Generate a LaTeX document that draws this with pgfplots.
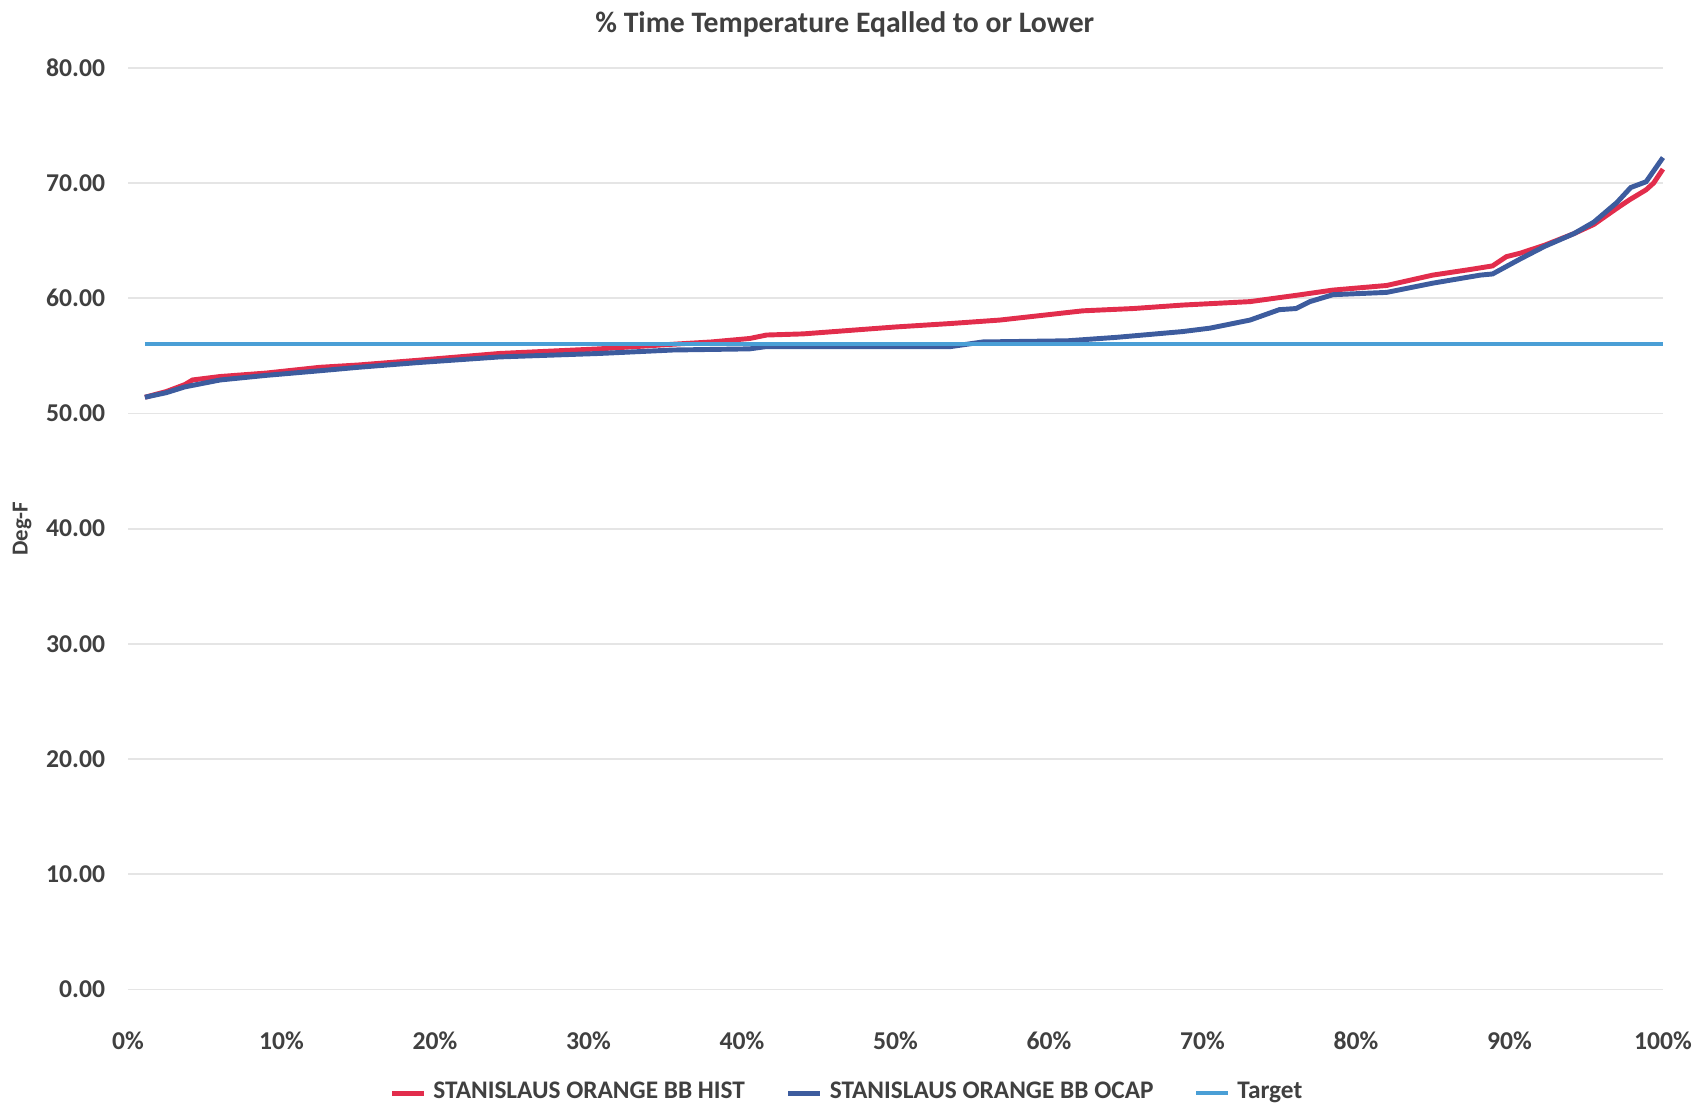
\documentclass[border=0pt]{standalone}
\usepackage{pgfplots}
\pgfplotsset{compat=1.18}
\usepackage{fontspec}
\setmainfont{Carlito}

\definecolor{histred}{HTML}{E22D4C}
\definecolor{ocapblue}{HTML}{3D5C9E}
\definecolor{targetblue}{HTML}{4A9FD6}
\definecolor{labgray}{HTML}{404040}

\begin{document}
\begin{tikzpicture}
\begin{axis}[
    width=15.35cm, height=9.22cm,
    scale only axis,
    clip=false,
    xmin=0, xmax=100,
    ymin=0, ymax=80,
    xtick={0,10,...,100},
    ytick={0,10,...,80},
    xticklabel={\pgfmathprintnumber{\tick}\%},
    /pgf/number format/assume math mode=true,
    tick label style={font=\fontsize{7.3}{8}\selectfont\bfseries, text=labgray},
    yticklabel style={/pgf/number format/fixed, /pgf/number format/fixed zerofill,
                      /pgf/number format/precision=2, xshift=-3pt},
    xticklabel style={yshift=-0.3cm},
    major tick length=0pt,
    axis line style={draw=none},
    ymajorgrids=true,
    grid style={gray!20, line width=0.5pt},
    title={\% Time Temperature Eqalled to or Lower},
    title style={font=\fontsize{8.45}{10}\selectfont\bfseries, text=labgray,
                 at={(0.467,1.024)}, anchor=center},
    ylabel={Deg-F},
    ylabel style={font=\fontsize{6.5}{8}\selectfont\bfseries, text=labgray,
                  at={(axis description cs:-0.069,0.5)}, anchor=center},
    legend style={at={(0.47,-0.092)}, anchor=north, draw=none,
                  legend columns=3, font=\fontsize{7.2}{9}\selectfont\bfseries,
                  text=labgray, inner sep=0pt,
                  /tikz/every even column/.append style={column sep=0.34cm}},
    legend image code/.code={\draw[#1] (0cm,0cm) -- (0.32cm,0cm);},
    legend cell align=left,
]

\addplot[color=histred, line width=1.4pt] coordinates {
(1.1,51.4)(2.5,51.9)(3.7,52.5)(4.2,52.9)(6,53.2)(9,53.5)(12.5,54.0)(15,54.2)
(18.8,54.6)(24.2,55.2)(30.7,55.6)(35.5,56.0)(38,56.2)(40.5,56.5)(41.6,56.8)
(44,56.9)(47,57.2)(50,57.5)(53.6,57.8)(56.8,58.1)(59.5,58.5)(62.2,58.9)
(65.5,59.1)(68.7,59.4)(73.1,59.7)(76.4,60.3)(78.5,60.7)(82,61.1)(85,62.0)
(87.5,62.5)(88.9,62.8)(89.8,63.6)(90.7,63.9)(92.3,64.6)(94.2,65.6)(95.5,66.4)
(97,67.8)(97.9,68.6)(98.9,69.4)(99.4,70.0)(100,71.2)
};
\addlegendentry{STANISLAUS ORANGE BB HIST}

\addplot[color=ocapblue, line width=1.4pt] coordinates {
(1.1,51.4)(2.5,51.8)(3.7,52.3)(6,52.9)(9,53.3)(12.5,53.7)(15,54.0)(18.8,54.4)
(24.2,54.9)(30.7,55.2)(35.5,55.5)(40.5,55.6)(41.6,55.8)(47,55.8)(53.6,55.8)
(55.7,56.2)(61.2,56.3)(64.4,56.6)(68.7,57.1)(70.5,57.4)(73.1,58.1)(75,59.0)
(76.1,59.1)(77,59.7)(78.5,60.3)(82,60.5)(85,61.3)(88.1,62.0)(88.9,62.1)
(90.7,63.4)(92.3,64.5)(94.2,65.6)(95.5,66.6)(97,68.3)(97.9,69.6)(98.9,70.1)
(100,72.2)
};
\addlegendentry{STANISLAUS ORANGE BB OCAP}

\addplot[color=targetblue, line width=1.1pt] coordinates {
(1.1,56.0)(100,56.0)
};
\addlegendentry{Target}

\path (rel axis cs:-0.0834,-0.128) rectangle (rel axis cs:1.0274,1.0716);
\end{axis}
\end{tikzpicture}
\end{document}
